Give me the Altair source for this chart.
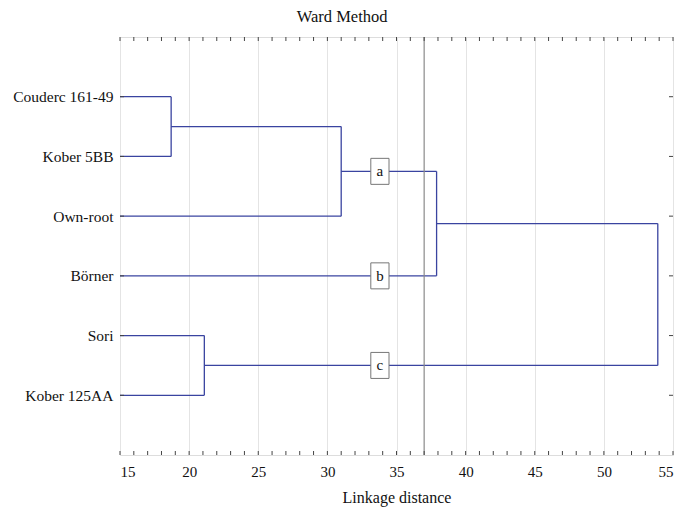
import json
import altair as alt
import pandas as pd

# ---- data ----
leaves = ["Couderc 161-49", "Kober 5BB", "Own-root", "Börner", "Sori", "Kober 125AA"]
# merges: (child A, child B, linkage distance); children >= 0 are leaves, "m#" are earlier merges
merges = [
    (0, 1, 18.7),        # m0
    ("m0", 2, 31.0),     # m1
    (4, 5, 21.1),        # m2
    ("m1", 3, 37.9),     # m3
    ("m3", "m2", 53.9),  # m4
]
cut_value = [37.0]
group_labels = ["a", "b", "c"]
group_nodes = ["m1", 3, "m2"]
group_x = [33.8, 33.8, 33.8]
x_start = 15.0
x_ticks_major = [15, 20, 25, 30, 35, 40, 45, 50, 55]
x_ticks_minor = list(range(15, 56))

# ---- build segments from the tree ----
node_pos = {}
for i, _ in enumerate(leaves):
    node_pos[i] = (x_start, i + 1)
segs = []
for k, (a, b, h) in enumerate(merges):
    xa, ya = node_pos[a]
    xb, yb = node_pos[b]
    segs.append(dict(x=xa, x2=h, y=ya, y2=ya))
    segs.append(dict(x=xb, x2=h, y=yb, y2=yb))
    segs.append(dict(x=h, x2=h, y=ya, y2=yb))
    node_pos[f"m{k}"] = (h, (ya + yb) / 2)
seg_df = pd.DataFrame(segs)

box_df = pd.DataFrame({
    "label": group_labels,
    "x": group_x,
    "y": [node_pos[n][1] for n in group_nodes],
})
cut_df = pd.DataFrame({"x": cut_value})
tick_df = pd.DataFrame({"x": x_ticks_minor})
ytick_df = pd.DataFrame({"y": list(range(1, len(leaves) + 1))})

W, H = 553, 418
FONT = "'Liberation Serif', 'Times New Roman', serif"
LINE = "#3a44a0"

xscale = alt.Scale(domain=[15, 55], nice=False, zero=False)
yscale = alt.Scale(domain=[0, 7], reverse=True, nice=False, zero=False)

label_expr = json.dumps(leaves) + "[datum.value - 1]"

segments = alt.Chart(seg_df).mark_rule(color=LINE, strokeWidth=1.3).encode(
    x=alt.X("x:Q", scale=xscale, axis=alt.Axis(
        values=x_ticks_major, title="Linkage distance", grid=True,
        gridColor="#e4e4e4", gridWidth=1, tickSize=0, domain=False,
        labelPadding=9, labelFontSize=15, labelFont=FONT, labelColor="#111",
        titleFont=FONT, titleFontSize=16, titleFontWeight="normal",
        titleColor="#111", titlePadding=10)),
    x2="x2:Q",
    y=alt.Y("y:Q", scale=yscale, axis=alt.Axis(
        values=list(range(1, len(leaves) + 1)), labelExpr=label_expr,
        title=None, grid=False, tickSize=0, domain=False, labelPadding=7,
        labelFontSize=15.5, labelFont=FONT, labelColor="#111")),
    y2="y2:Q",
)

cut = alt.Chart(cut_df).mark_rule(color="#8a8a8a", strokeWidth=1.2).encode(
    x=alt.X("x:Q", scale=xscale),
)

ticks_bottom = alt.Chart(tick_df).mark_rule(color="#444", strokeWidth=1).encode(
    x=alt.X("x:Q", scale=xscale), y=alt.value(H), y2=alt.value(H - 4))
ticks_top = alt.Chart(tick_df).mark_rule(color="#444", strokeWidth=1).encode(
    x=alt.X("x:Q", scale=xscale), y=alt.value(0), y2=alt.value(4))
ticks_left = alt.Chart(ytick_df).mark_rule(color="#444", strokeWidth=1).encode(
    y=alt.Y("y:Q", scale=yscale), x=alt.value(0), x2=alt.value(4))
ticks_right = alt.Chart(ytick_df).mark_rule(color="#444", strokeWidth=1).encode(
    y=alt.Y("y:Q", scale=yscale), x=alt.value(W), x2=alt.value(W - 4))

boxes = alt.Chart(box_df).mark_point(
    shape="M-0.7,-1H0.7V1H-0.7Z", filled=True, fill="white", stroke="#777",
    strokeWidth=1, size=676, opacity=1).encode(
    x=alt.X("x:Q", scale=xscale), y=alt.Y("y:Q", scale=yscale))

texts = alt.Chart(box_df).mark_text(font=FONT, fontSize=15, color="#111").encode(
    x=alt.X("x:Q", scale=xscale), y=alt.Y("y:Q", scale=yscale), text="label:N")

chart = alt.layer(segments, cut, ticks_bottom, ticks_top, ticks_left, ticks_right,
                  boxes, texts).properties(
    width=W, height=H,
    title=alt.TitleParams("Ward Method", font=FONT, fontSize=16.5, fontWeight="normal",
                          color="#111", anchor="middle", frame="bounds", offset=11, dx=-1),
    autosize=alt.AutoSizeParams(type="none"),
    padding={"left": 112, "top": 29, "right": 14, "bottom": 52},
).configure_view(stroke="#444", strokeWidth=1.2).configure(background="white")

chart.save("out.html", embed_options={"renderer": "svg", "actions": False})
